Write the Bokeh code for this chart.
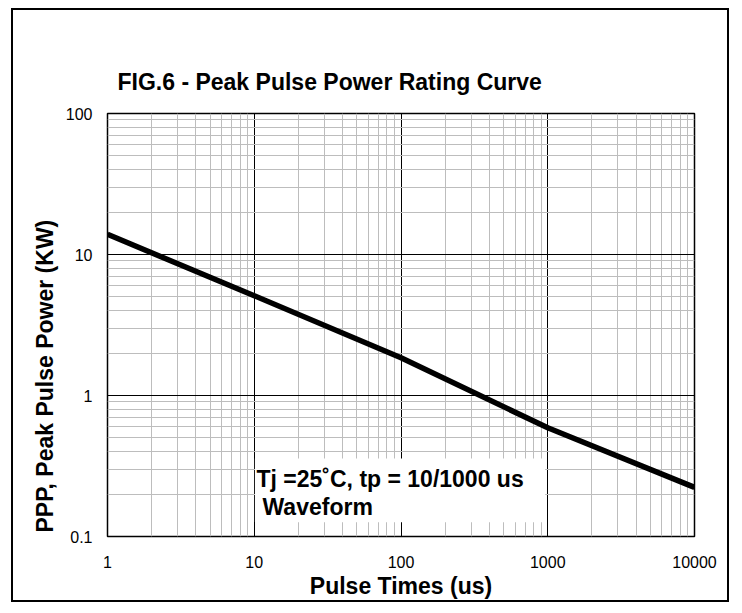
from bokeh.plotting import figure
from bokeh.models import FixedTicker, Range1d, Label, BoxAnnotation, Title
from bokeh.embed import file_html
from bokeh.resources import INLINE

# ---- data ----
pulse_time_us = [1, 10, 100, 1000, 10000]
peak_power_kw = [13.9, 5.1, 1.85, 0.59, 0.223]

x_major_ticks = [1, 10, 100, 1000, 10000]
x_tick_labels = ["1", "10", "100", "1000", "10000"]
y_major_ticks = [0.1, 1, 10, 100]
y_tick_labels = ["0.1", "1", "10", "100"]

title_text = "FIG.6 - Peak Pulse Power Rating Curve"
x_title = "Pulse Times (us)"
y_title = "PPP, Peak Pulse Power (KW)"
note_line1 = "Tj =25\u02daC, tp = 10/1000 us"
note_line2 = "Waveform"

FONT = "Liberation Sans"
BIG = "23px"


def minors(majors):
    out = []
    for m in majors[:-1]:
        for k in range(2, 10):
            out.append(round(m * k, 6))
    return out


p = figure(
    width=718, height=594,
    x_axis_type="log", y_axis_type="log",
    x_range=Range1d(1, 10000), y_range=Range1d(0.1, 100),
    output_backend="svg", toolbar_location=None,
    min_border_left=94, min_border_right=37,
    min_border_top=103, min_border_bottom=68,
)
p.margin = (8, 0, 0, 11)
p.styles = {"border": "2px solid black"}

p.title.text = title_text
p.title.text_font = FONT
p.title.text_font_size = BIG
p.title.text_font_style = "bold"
p.title.text_color = "black"
p.title.align = "left"
p.title.offset = 10
p.title.standoff = 37

# y-axis title as a side title (reads bottom to top)
p.add_layout(Title(text=y_title, align="left", offset=4, standoff=9,
                   text_font=FONT, text_font_size=BIG, text_font_style="bold",
                   text_color="black"), "left")

# axes
p.xaxis.ticker = FixedTicker(ticks=x_major_ticks, minor_ticks=minors(x_major_ticks))
p.yaxis.ticker = FixedTicker(ticks=y_major_ticks, minor_ticks=minors(y_major_ticks))
p.xaxis.major_label_overrides = {float(t): l for t, l in zip(x_major_ticks, x_tick_labels)}
p.yaxis.major_label_overrides = {float(t): l for t, l in zip(y_major_ticks, y_tick_labels)}
for ax in (p.xaxis[0], p.yaxis[0]):
    ax.axis_line_color = None
    ax.major_tick_line_color = None
    ax.minor_tick_line_color = None
    ax.major_label_text_font = FONT
    ax.major_label_text_font_size = "16px"
    ax.major_label_text_color = "black"
p.xaxis.major_label_standoff = 13
p.yaxis.major_label_standoff = 9

p.xaxis.axis_label = x_title
p.xaxis.axis_label_text_font = FONT
p.xaxis.axis_label_text_font_size = BIG
p.xaxis.axis_label_text_font_style = "bold"
p.xaxis.axis_label_text_color = "black"
p.xaxis.axis_label_standoff = 2

# grid
for g in (p.xgrid[0], p.ygrid[0]):
    g.grid_line_color = "black"
    g.grid_line_width = 1
    g.minor_grid_line_color = "#bdbdbd"
    g.minor_grid_line_width = 1

p.outline_line_color = "black"
p.outline_line_width = 1.5

# curve
p.line(pulse_time_us, peak_power_kw, line_color="black", line_width=5.5)

# note box
p.add_layout(BoxAnnotation(left=10.1, right=960, bottom=0.126, top=0.357,
                           fill_color="white", fill_alpha=1.0, line_color=None))
p.add_layout(Label(x=149, y=58, x_units="screen", y_units="screen", text=note_line1,
                   text_font=FONT, text_font_size=BIG, text_font_style="bold",
                   text_baseline="alphabetic", text_color="black"))
p.add_layout(Label(x=155, y=30, x_units="screen", y_units="screen", text=note_line2,
                   text_font=FONT, text_font_size=BIG, text_font_style="bold",
                   text_baseline="alphabetic", text_color="black"))

open("out.html", "w").write(file_html(p, INLINE))
